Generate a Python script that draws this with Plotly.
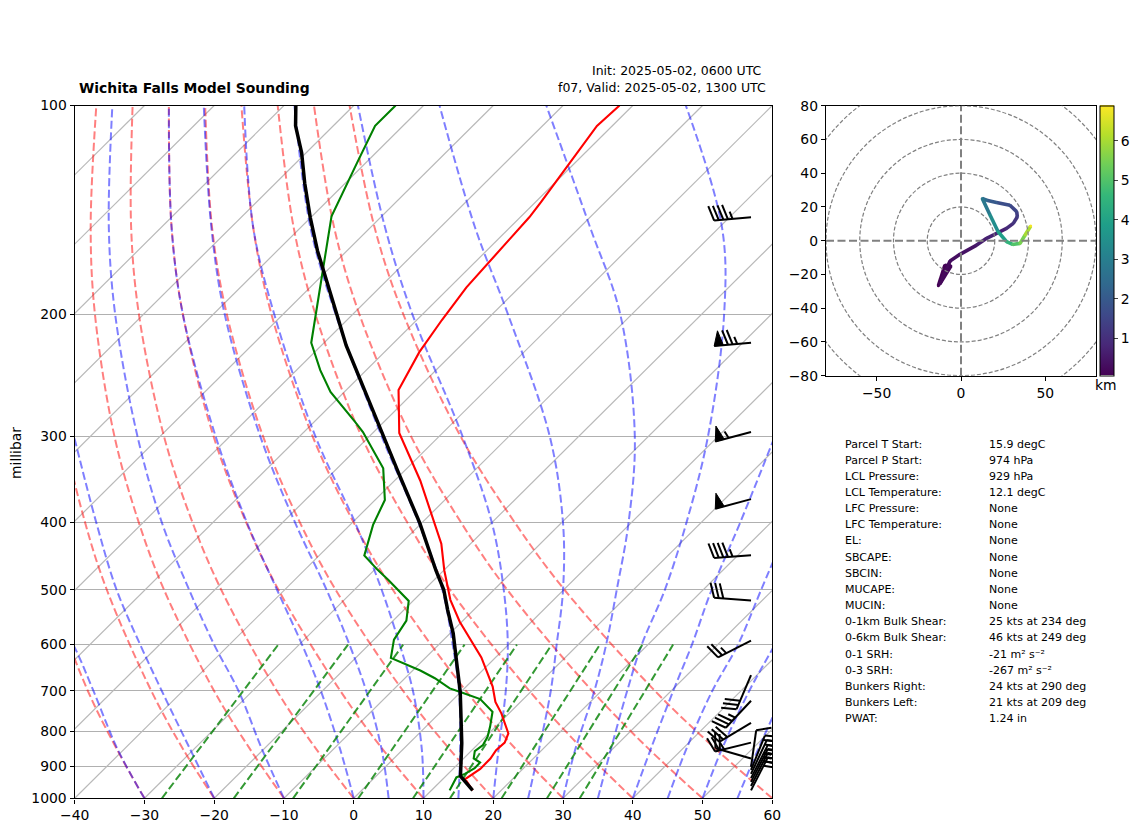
import numpy as np
import plotly.graph_objects as go
from plotly.colors import sample_colorscale

# sounding
temp_p = [974, 938, 907, 876, 852, 831, 806, 780, 754, 726, 690, 626, 599, 556, 517, 489, 469, 429, 388, 348, 297, 257.5, 227, 204, 183, 169, 145, 138, 122.6, 107, 100]
temp_t = [15.9, 13.2, 13.9, 13.85, 13.45, 13.6, 12.8, 10.9, 8.9, 6.4, 3.8, -2.05, -5.15, -10.3, -14.8, -17.75, -19.9, -24.2, -30, -36.3, -46.2, -52.5, -55, -56.4, -57.6, -57.95, -58.7, -59.2, -60.65, -62.2, -61.9]

dewp_p = [974, 951, 933, 922, 905, 888, 876, 855, 838, 815, 788, 750, 719, 702, 694, 671, 654, 627, 590, 554, 519, 484, 468, 446, 403, 371, 334, 296, 286, 259, 241, 220, 171, 144.5, 121, 107, 100]
dewp_t = [12.6, 12.1, 11.7, 12.4, 13.0, 12.95, 11.45, 10.55, 10.85, 10.3, 9.2, 7.4, 3.8, -0.2, -2.1, -5.7, -8.9, -14.95, -17.15, -18.1, -20.6, -26.55, -29.55, -33.55, -36.7, -38.6, -43.4, -51.55, -54.2, -62, -66.6, -71.85, -81, -87.2, -91.25, -94, -94]

parcel_p = [974, 929, 833, 763, 702, 646, 578, 535, 500, 469, 401, 338, 292, 257.5, 222, 203, 185, 162, 145, 129.5, 117, 107, 100]
parcel_t = [15.9, 12.1, 7.55, 3.65, -0.1, -4.15, -9.55, -13.7, -17.2, -21.1, -30.2, -40.75, -49.7, -57.5, -66.45, -71.5, -76.7, -84.25, -90.1, -95.8, -100.65, -105.4, -108.3]

# background lines
isotherms = list(range(-140, 61, 10))

dry_p = [1000, 850, 700, 500, 400, 300, 200, 150, 100]
dry_lines = [
    [-30, -41.0, -53.6, -73.7, -86.0, -100.8, -119.6, -131.8, -147.2],
    [-20, -31.5, -44.5, -65.5, -78.3, -93.7, -113.3, -125.9, -142.0],
    [-10, -21.9, -35.5, -57.3, -70.6, -86.6, -107.0, -120.1, -136.9],
    [0, -12.4, -26.5, -49.1, -62.9, -79.5, -100.7, -114.3, -131.7],
    [10, -2.9, -17.4, -40.9, -55.2, -72.4, -94.4, -108.5, -126.5],
    [20, 6.7, -8.4, -32.7, -47.5, -65.3, -88.1, -102.7, -121.3],
    [30, 16.2, 0.6, -24.5, -39.8, -58.2, -81.7, -96.8, -116.1],
    [40, 25.8, 9.7, -16.3, -32.1, -51.2, -75.4, -91.0, -110.9],
    [50, 35.3, 18.7, -8.1, -24.4, -44.1, -69.1, -85.2, -105.7],
    [60, 44.9, 27.7, 0.1, -16.7, -37.0, -62.8, -79.4, -100.6],
]

moist_p = [1000, 850, 700, 600, 500, 400, 300, 200, 150, 100]
moist_lines = [
    [-30, -40.9, -52.8, -62.4, -75],
    [-20, -30.5, -43.0, -52.8, -64.1, -76.7, -92.4],
    [-10, -20.2, -32.0, -42.2, -53.7, -67.3, -83.3, -104.1, -117.5, -134.6],
    [0, -9.0, -20.2, -29.6, -41.1, -55.1, -72.1, -94.4, -108.5, -126.5],
    [5, -3.06, -13.7, -22.8, -34.0, -48.2, -65.7, -88.4, -102.8, -121.5],
    [10, 2.7, -7.0, -15.6, -26.1, -39.6, -57.8, -81.3, -96.8, -115.7],
    [15, 8.2, -0.4, -8.0, -17.4, -30.5, -48.3, -72.5, -88.6, -108.5],
    [20, 13.7, 6.3, -0.1, -8.6, -20.0, -36.7, -61.5, -77.9, -99.4],
    [25, 19.5, 12.75, 6.9, -0.1, -9.8, -24.2, -47.8, -65.0, -87.7],
    [30, 24.7, 19.0, 14.0, 7.6, -0.4, -12.0, -31.7, -48.5, -72.4],
    [35, 29.8, 23.7, 19.1, 14.5, 7.9, -1.5, -16.8, -29.6, -52.4],
    [40, 35.5, 30.3, 26.3, 21.2, 15.6, 8.1],
    [45, 40.6, 35.9, 32.9, 28.3, 22.7],
    [50, 45.7, 41.2, 38.2, 34.9],
    [55, 50.9, 46.3],
]

mix_bottom = [-27.5, -17.2, -8.7, 0.65, 8.5, 13.8, 21.2, 27.7, 32.4]
mix_top = [-33.0, -23.0, -15.1, -6.3, 1.2, 6.2, 13.1, 19.2, 23.6]

# wind barbs
barb_p = [145, 220, 296, 370, 446, 518, 592, 664, 723, 778, 831, 876, 901, 910, 922, 935, 947, 960, 974]
barb_spd = [45, 75, 55, 50, 45, 30, 25, 30, 35, 30, 25, 20, 10, 20, 20, 25, 25, 30, 30]
barb_dir = [265, 265, 255, 255, 266, 274, 243, 203, 223, 239, 256, 286, 8, 22, 25, 27, 27, 27, 27]

# hodograph
hodo_u = [-13.4, -9.5, -6, -12.5, -8, -6.5, -0.6, 9.3, 15.2, 27, 31, 33.4, 33, 29, 21, 15.2, 12.6, 17.2, 22, 27, 30.6, 35, 38, 41.3]
hodo_v = [-26.7, -14.5, -15, -25.5, -15.5, -12, -8.1, -2.6, 1.4, 7.3, 10.3, 14.2, 17.2, 21, 22.7, 24, 25, 15.2, 5.3, -0.6, -2.2, -1.6, 3.4, 8.7]
hodo_km = [0.05, 0.1, 0.15, 0.2, 0.25, 0.3, 0.4, 0.6, 0.7, 0.9, 1.1, 1.3, 1.5, 1.7, 2.0, 2.4, 2.8, 3.4, 3.9, 4.5, 5.0, 5.5, 6.0, 6.8]
hodo_rings = [20, 40, 60, 80, 100]

stat_labels = ["Parcel T Start:", "Parcel P Start:", "LCL Pressure:", "LCL Temperature:", "LFC Pressure:", "LFC Temperature:", "EL:", "SBCAPE:", "SBCIN:", "MUCAPE:", "MUCIN:", "0-1km Bulk Shear:", "0-6km Bulk Shear:", "0-1 SRH:", "0-3 SRH:", "Bunkers Right:", "Bunkers Left:", "PWAT:"]
stat_values = ["15.9 degC", "974 hPa", "929 hPa", "12.1 degC", "None", "None", "None", "None", "None", "None", "None", "25 kts at 234 deg", "46 kts at 249 deg", "-21 m² s⁻²", "-267 m² s⁻²", "24 kts at 290 deg", "21 kts at 209 deg", "1.24 in"]

W, H = 1142, 832
FONT = "DejaVu Sans"
SKEW = 100.0  # degrees per decade of pressure
LEFT, RIGHT, TOP, BOTTOM = 74.7, 772.3, 105.5, 798.3
PX_PER_C = (RIGHT - LEFT) / 100
PX_PER_DECADE = BOTTOM - TOP


def skew_x(t, p):
    return [a + SKEW * np.log10(1000 / b) for a, b in zip(t, p)]


def px(x):
    return x / W


def py(y):
    return 1 - y / H


def barb_shape(p, spd, wdir, x_tip=56.95, length=37):
    # same layout as matplotlib barbs, worked out in pixels then put in axis units
    height, spacing, width = 0.4 * length, 0.125 * length, 0.25 * length
    theta = np.radians(wdir)
    u, v = -np.sin(theta), -np.cos(theta)
    sx, sy = -u, -v          # along the staff, away from the tip
    fx, fy = -v, u           # left of the wind

    def to_data(along, out):
        dx = sx * along + fx * out
        dy = sy * along + fy * out
        return x_tip + dx / PX_PER_C, p * 10 ** (-dy / PX_PER_DECADE)

    lines_x, lines_y, flags_x, flags_y = [], [], [], []
    a, b = to_data(0, 0)
    c, d = to_data(length, 0)
    lines_x += [a, c, None]
    lines_y += [b, d, None]

    n_flag = int(spd // 50)
    n_full = int((spd % 50) // 10)
    half = (spd % 10) >= 5
    offset = length
    for i in range(n_flag):
        if offset != length:
            offset += spacing / 2
        for al, ou in [(offset, 0), (offset - width / 2, height), (offset - width, 0), (offset, 0)]:
            a, b = to_data(al, ou)
            flags_x.append(a)
            flags_y.append(b)
        flags_x.append(None)
        flags_y.append(None)
        offset -= width + spacing
    for i in range(n_full):
        a, b = to_data(offset, 0)
        c, d = to_data(offset + width / 2, height)
        lines_x += [a, c, None]
        lines_y += [b, d, None]
        offset -= spacing
    if half:
        if offset == length:
            offset -= 1.5 * spacing
        a, b = to_data(offset, 0)
        c, d = to_data(offset + width / 4, height / 2)
        lines_x += [a, c, None]
        lines_y += [b, d, None]
    return lines_x, lines_y, flags_x, flags_y


fig = go.Figure()

# isotherms
for t in isotherms:
    fig.add_trace(go.Scatter(x=skew_x([t, t], [1000, 100]), y=[1000, 100], mode="lines",
                             line=dict(color="rgb(185,185,185)", width=1.2), hoverinfo="skip"))

# dry adiabats
for line in dry_lines:
    fig.add_trace(go.Scatter(x=skew_x(line, dry_p), y=dry_p, mode="lines",
                             line=dict(color="rgba(255,0,0,0.5)", width=2, dash="8px,3.5px", shape="spline"),
                             hoverinfo="skip"))

# moist adiabats
for line in moist_lines:
    p = moist_p[:len(line)]
    fig.add_trace(go.Scatter(x=skew_x(line, p), y=p, mode="lines",
                             line=dict(color="rgba(0,0,255,0.5)", width=2, dash="8px,3.5px", shape="spline"),
                             hoverinfo="skip"))

# mixing ratio
for a, b in zip(mix_bottom, mix_top):
    fig.add_trace(go.Scatter(x=skew_x([a, b], [1000, 600]), y=[1000, 600], mode="lines",
                             line=dict(color="rgba(0,128,0,0.8)", width=2, dash="8px,3.5px"),
                             hoverinfo="skip"))

fig.add_trace(go.Scatter(x=skew_x(temp_t, temp_p), y=temp_p, mode="lines", line=dict(color="red", width=2.1)))
fig.add_trace(go.Scatter(x=skew_x(dewp_t, dewp_p), y=dewp_p, mode="lines", line=dict(color="green", width=2.1)))
fig.add_trace(go.Scatter(x=skew_x(parcel_t, parcel_p), y=parcel_p, mode="lines", line=dict(color="black", width=3.5)))

# barbs
all_lx, all_ly, all_fx, all_fy = [], [], [], []
for p, s, d in zip(barb_p, barb_spd, barb_dir):
    lx, ly, fx, fy = barb_shape(p, s, d)
    all_lx += lx
    all_ly += ly
    all_fx += fx
    all_fy += fy
fig.add_trace(go.Scatter(x=all_fx, y=all_fy, mode="lines", fill="toself", fillcolor="black",
                         line=dict(color="black", width=1), hoverinfo="skip"))
fig.add_trace(go.Scatter(x=all_lx, y=all_ly, mode="lines", line=dict(color="black", width=2), hoverinfo="skip"))

# hodograph, one piece per colour
for i in range(len(hodo_u) - 1):
    level = (hodo_km[i] - 0.05) / (6.9 - 0.05)
    colour = sample_colorscale("Viridis", [level])[0]
    fig.add_trace(go.Scatter(x=hodo_u[i:i + 2], y=hodo_v[i:i + 2], mode="lines", xaxis="x2", yaxis="y2",
                             line=dict(color=colour, width=3.6), hoverinfo="skip"))
fig.add_trace(go.Scatter(x=hodo_u, y=hodo_v, mode="markers", xaxis="x2", yaxis="y2", hoverinfo="skip",
                         marker=dict(size=3, color=hodo_km, colorscale="Viridis", cmin=0.05, cmax=6.9,
                                     colorbar=dict(x=px(1100), xanchor="left", y=py(105.5), yanchor="top",
                                                   len=270 / H, lenmode="fraction", thickness=14,
                                                   thicknessmode="pixels", xpad=0, ypad=0,
                                                   tickvals=[1, 2, 3, 4, 5, 6], ticks="outside", ticklen=4,
                                                   outlinewidth=1, outlinecolor="black",
                                                   tickfont=dict(family=FONT, size=13.9, color="black")))))

shapes = []
for r in hodo_rings:
    shapes.append(dict(type="circle", xref="x2", yref="y2", x0=-r, x1=r, y0=-r, y1=r,
                       line=dict(color="gray", width=1.2, dash="4px,2px")))
shapes.append(dict(type="line", xref="x2", yref="y2", x0=-80, x1=80, y0=0, y1=0,
                   line=dict(color="gray", width=2, dash="8px,3.5px")))
shapes.append(dict(type="line", xref="x2", yref="y2", x0=0, x1=0, y0=-80, y1=80,
                   line=dict(color="gray", width=2, dash="8px,3.5px")))

notes = [
    dict(x=px(78), y=py(87.5), text="<b>Wichita Falls Model Sounding</b>", size=13.9, xanchor="left"),
    dict(x=px(763), y=py(70), text="Init: 2025-05-02, 0600 UTC", size=12.5, xanchor="right"),
    dict(x=px(767), y=py(87.5), text="f07, Valid: 2025-05-02, 1300 UTC", size=12.5, xanchor="right"),
    dict(x=px(1106), y=py(384.5), text="km", size=13.9, xanchor="center"),
]
for i, (a, b) in enumerate(zip(stat_labels, stat_values)):
    y = 444 + i * 16.16
    notes.append(dict(x=px(844), y=py(y), text=a, size=11, xanchor="left"))
    notes.append(dict(x=px(988), y=py(y), text=b, size=11, xanchor="left"))
notes = [dict(xref="paper", yref="paper", showarrow=False, yanchor="middle",
              font=dict(family=FONT, size=n.pop("size"), color="black"), borderpad=0, **n) for n in notes]
notes.append(dict(xref="paper", yref="paper", x=px(16), y=py(453), text="millibar", textangle=-90, showarrow=False,
                  xanchor="center", yanchor="middle", font=dict(family=FONT, size=13.9, color="black")))

axis_style = dict(showline=True, linecolor="black", linewidth=1.4, mirror=True, ticks="outside", ticklen=4,
                  tickcolor="black", tickfont=dict(family=FONT, size=13.9, color="black"), zeroline=False)

fig.update_layout(
    width=W, height=H, showlegend=False, plot_bgcolor="white", paper_bgcolor="white",
    margin=dict(l=0, r=0, t=0, b=0, autoexpand=False),
    xaxis=dict(domain=[px(LEFT), px(RIGHT)], range=[-40, 60], tickvals=list(range(-40, 61, 10)), showgrid=False, **axis_style),
    yaxis=dict(domain=[py(BOTTOM), py(TOP)], type="log", range=[3, 2],
               tickvals=[100, 200, 300, 400, 500, 600, 700, 800, 900, 1000],
               ticktext=["100", "200", "300", "400", "500", "600", "700", "800", "900", "1000"],
               showgrid=True, gridcolor="rgb(176,176,176)", gridwidth=1.4, **axis_style),
    xaxis2=dict(domain=[px(826), px(1096)], range=[-80, 80], tickvals=[-50, 0, 50], showgrid=False, anchor="y2", **axis_style),
    yaxis2=dict(domain=[py(375.7), py(105.7)], range=[-80, 80], tickvals=list(range(-80, 81, 20)), showgrid=False, anchor="x2", **axis_style),
    shapes=shapes,
    annotations=notes,
)

fig.write_html("out.html", config={"displayModeBar": False},
               post_script="document.body.style.margin='0';document.body.style.overflow='hidden';")
